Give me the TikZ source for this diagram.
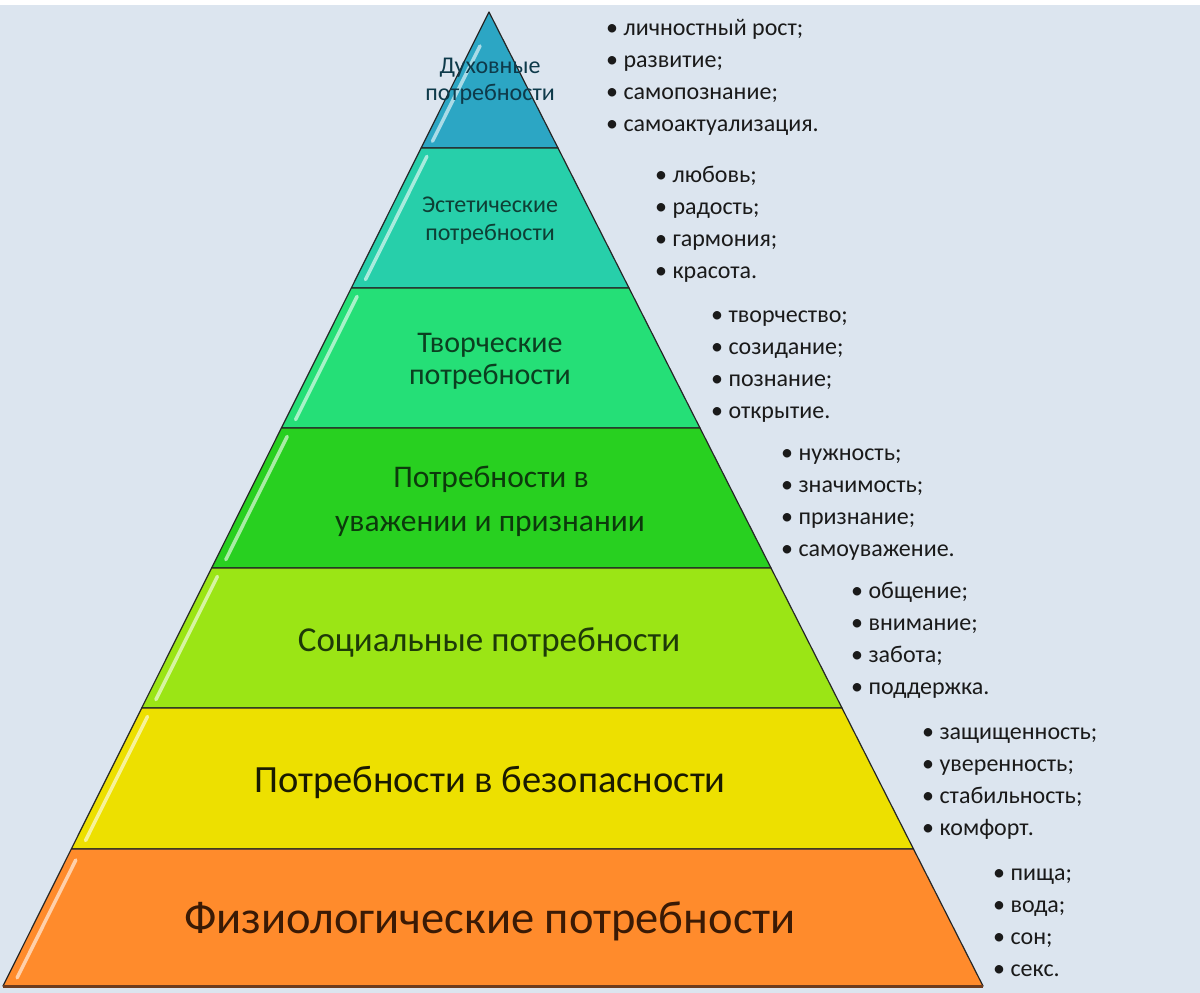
\documentclass[tikz,border=0pt]{standalone}
\usepackage{fontspec}
\setmainfont{Carlito}
\usetikzlibrary{calc}
\definecolor{bgc}{HTML}{DCE5EF}
\definecolor{c1}{HTML}{2CA6C4}
\definecolor{c2}{HTML}{27CFAA}
\definecolor{c3}{HTML}{25DF77}
\definecolor{c4}{HTML}{28D020}
\definecolor{c5}{HTML}{9BE515}
\definecolor{c6}{HTML}{EDE000}
\definecolor{c7}{HTML}{FF8B2C}
\definecolor{t1}{HTML}{0E3A4A}
\definecolor{t2}{HTML}{0E3F35}
\definecolor{t3}{HTML}{0B3F20}
\definecolor{t4}{HTML}{0C3A0C}
\definecolor{t5}{HTML}{1E3A08}
\definecolor{t6}{HTML}{1A1A00}
\definecolor{t7}{HTML}{3A1A05}
\definecolor{listc}{HTML}{1A1A1A}
\newcommand\mylist[4]{\foreach \t [count=\i] in {#4} {\node[item] (#1\i) at (#2,{#3+32.3*(\i-1)}) {\t};}}
\begin{document}
\begin{tikzpicture}[x=1pt,y=-1pt,
  lvl/.style={draw=black!85, line width=1.2pt, line join=round},
  hl/.style={white, opacity=0.6, line width=3.5pt, line cap=round},
  lab/.style={anchor=base, inner sep=0pt},
  item/.style={anchor=base west, inner sep=0pt, text=listc, font=\fontsize{24}{24}\selectfont}]
\fill[white] (0,0) rectangle (1200,993);
\fill[bgc] (0,5) rectangle (1200,993);
\useasboundingbox (0,0) rectangle (1200,993);
% geometry
\coordinate (A) at (489,12);
\coordinate (L1) at (421.1,148); \coordinate (R1) at (558.0,148);
\coordinate (L2) at (351.3,288); \coordinate (R2) at (629.0,288);
\coordinate (L3) at (281.4,428); \coordinate (R3) at (700.0,428);
\coordinate (L4) at (211.6,568); \coordinate (R4) at (771.0,568);
\coordinate (L5) at (141.7,708); \coordinate (R5) at (842.0,708);
\coordinate (L6) at (71.3,849);  \coordinate (R6) at (913.5,849);
\coordinate (L7) at (3,986);     \coordinate (R7) at (983,986);
% levels
\draw[lvl, fill=c1] (A) -- (R1) -- (L1) -- cycle;
\draw[lvl, fill=c2] (L1) -- (R1) -- (R2) -- (L2) -- cycle;
\draw[lvl, fill=c3] (L2) -- (R2) -- (R3) -- (L3) -- cycle;
\draw[lvl, fill=c4] (L3) -- (R3) -- (R4) -- (L4) -- cycle;
\draw[lvl, fill=c5] (L4) -- (R4) -- (R5) -- (L5) -- cycle;
\draw[lvl, fill=c6] (L5) -- (R5) -- (R6) -- (L6) -- cycle;
\draw[lvl, fill=c7] (L6) -- (R6) -- (R7) -- (L7) -- cycle;
\draw[line width=3pt, draw={rgb,255:red,110;green,60;blue,30}] (L7) -- (R7);
% highlights on left edges
\draw[hl] ($(A)!0.25!(L1)+(8,0)$) -- ($(A)!0.95!(L1)+(8,0)$);
\draw[hl] ($(L1)!0.06!(L2)+(10,0)$) -- ($(L1)!0.94!(L2)+(10,0)$);
\draw[hl] ($(L2)!0.06!(L3)+(10,0)$) -- ($(L2)!0.94!(L3)+(10,0)$);
\draw[hl] ($(L3)!0.06!(L4)+(10,0)$) -- ($(L3)!0.94!(L4)+(10,0)$);
\draw[hl] ($(L4)!0.06!(L5)+(10,0)$) -- ($(L4)!0.94!(L5)+(10,0)$);
\draw[hl] ($(L5)!0.06!(L6)+(10,0)$) -- ($(L5)!0.94!(L6)+(10,0)$);
\draw[hl] ($(L6)!0.08!(L7)+(10,0)$) -- ($(L6)!0.94!(L7)+(10,0)$);
% level labels
\node[lab, text=t1, font=\fontsize{24}{24}\selectfont] (n1a) at (490,73) {Духовные};
\node[lab, text=t1, font=\fontsize{24}{24}\selectfont] (n1b) at (490,100) {потребности};
\node[lab, text=t2, font=\fontsize{24}{24}\selectfont] (n2a) at (490,212) {Эстетические};
\node[lab, text=t2, font=\fontsize{24}{24}\selectfont] (n2b) at (490,240) {потребности};
\node[lab, text=t3, font=\fontsize{30}{30}\selectfont] (n3a) at (490,352) {Творческие};
\node[lab, text=t3, font=\fontsize{30}{30}\selectfont] (n3b) at (490,384) {потребности};
\node[lab, text=t4, font=\fontsize{31.5}{32}\selectfont] (n4a) at (491,487) {Потребности в};
\node[lab, text=t4, font=\fontsize{31.5}{32}\selectfont] (n4b) at (490,531) {уважении и признании};
\node[lab, text=t5, font=\fontsize{35}{35}\selectfont] (n5) at (489,651) {Социальные потребности};
\node[lab, text=t6, font=\fontsize{38.5}{38.5}\selectfont] (n6) at (490,792) {Потребности в безопасности};
\node[lab, text=t7, font=\fontsize{46.5}{46.5}\selectfont] (n7) at (490,933) {Физиологические потребности};
% lists
\mylist{a}{606}{35}{{• личностный рост;},{• развитие;},{• самопознание;},{• самоактуализация.}}
\mylist{b}{655}{182}{{• любовь;},{• радость;},{• гармония;},{• красота.}}
\mylist{c}{711}{322}{{• творчество;},{• созидание;},{• познание;},{• открытие.}}
\mylist{d}{781}{460}{{• нужность;},{• значимость;},{• признание;},{• самоуважение.}}
\mylist{e}{851}{598}{{• общение;},{• внимание;},{• забота;},{• поддержка.}}
\mylist{f}{922}{739}{{• защищенность;},{• уверенность;},{• стабильность;},{• комфорт.}}
\mylist{g}{993}{880}{{• пища;},{• вода;},{• сон;},{• секс.}}
\end{tikzpicture}
\end{document}
